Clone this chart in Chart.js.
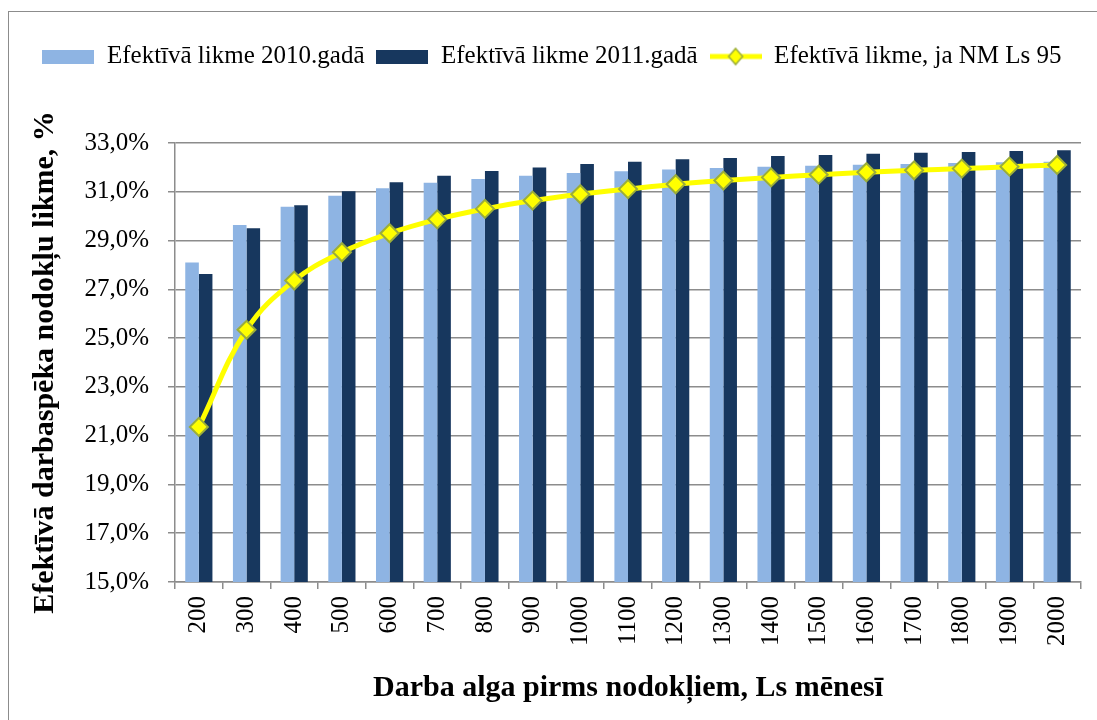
<!DOCTYPE html>
<html>
<head>
<meta charset="utf-8">
<script src="https://cdn.jsdelivr.net/npm/chart.js@4/dist/chart.umd.min.js"></script>
<style>
html,body{margin:0;padding:0;background:#fff;overflow:hidden}
#wrap{position:relative;width:1097px;height:720px}
#frame{position:absolute;left:8px;top:11px;width:1200px;height:800px;border:1px solid #8c8c8c;pointer-events:none}
</style>
</head>
<body>
<div id="wrap">
<div id="frame"></div>
<canvas id="taxChart" width="1097" height="720"></canvas>
</div>
<script>
const salaries=['200','300','400','500','600','700','800','900','1000','1100','1200','1300','1400','1500','1600','1700','1800','1900','2000'];
const rate2010=[28.1,29.64,30.39,30.84,31.14,31.37,31.52,31.66,31.77,31.84,31.91,31.98,32.03,32.07,32.11,32.14,32.18,32.21,32.23];
const rate2011=[27.63,29.5,30.45,31.02,31.39,31.66,31.85,32.0,32.14,32.23,32.33,32.39,32.47,32.51,32.56,32.6,32.63,32.67,32.7];
const rateNM95=[21.36,25.34,27.36,28.52,29.3,29.87,30.3,30.64,30.9,31.11,31.31,31.46,31.59,31.7,31.8,31.88,31.95,32.03,32.1];
const yTicks={min:15,max:33,step:2};

const serif='"Liberation Serif","Times New Roman",serif';
const lightBlue='#8eb4e3',darkBlue='#17375e',yellow='#ffff00',olive='#9bad3a';

// legend markers (box / line with diamond), drawn as small canvases
function boxIcon(color){
const c=document.createElement('canvas');c.width=52;c.height=14;
const g=c.getContext('2d');g.fillStyle=color;g.fillRect(0,0,52,14);return c;
}
function lineIcon(){
const c=document.createElement('canvas');c.width=52;c.height=20;
const g=c.getContext('2d');
g.strokeStyle=yellow;g.lineWidth=5;g.beginPath();g.moveTo(0,10);g.lineTo(52,10);g.stroke();
g.fillStyle=yellow;g.strokeStyle=olive;g.lineWidth=1.5;
g.beginPath();g.moveTo(26,2);g.lineTo(33,10);g.lineTo(26,18);g.lineTo(19,10);g.closePath();g.fill();g.stroke();
return c;
}
const icons=[boxIcon(lightBlue),boxIcon(darkBlue),lineIcon()];

// leave empty room under the legend, like the original
const legendGap={id:'legendGap',beforeLayout(chart){
const lg=chart.legend;
if(lg&&!lg._gap){const fit=lg.fit;lg.fit=function(){fit.call(this);this.height+=64;};lg._gap=true;}
}};

new Chart(document.getElementById('taxChart'),{
type:'bar',
data:{labels:salaries,datasets:[
{label:'Efektīvā likme 2010.gadā',data:rate2010,backgroundColor:lightBlue,order:1,barPercentage:1,categoryPercentage:0.57},
{label:'Efektīvā likme 2011.gadā',data:rate2011,backgroundColor:darkBlue,order:1,barPercentage:1,categoryPercentage:0.57},
{type:'line',label:'Efektīvā likme, ja NM Ls 95',data:rateNM95,borderColor:yellow,borderWidth:5,tension:0.4,
pointStyle:'rectRot',pointRadius:9,pointHoverRadius:9,pointBackgroundColor:yellow,pointBorderColor:olive,pointBorderWidth:2,order:0}
]},
plugins:[legendGap],
options:{
responsive:false,animation:false,
layout:{padding:{left:23,right:16,top:32,bottom:10}},
plugins:{
tooltip:{enabled:false},
legend:{position:'top',labels:{
usePointStyle:true,pointStyleWidth:52,padding:12,color:'#000',font:{family:serif,size:25},
sort:(a,b)=>a.datasetIndex-b.datasetIndex,
generateLabels:chart=>Chart.defaults.plugins.legend.labels.generateLabels(chart).map(l=>Object.assign(l,{pointStyle:icons[l.datasetIndex]}))
}}
},
scales:{
x:{
grid:{drawOnChartArea:false,tickLength:7,color:'#8c8c8c',lineWidth:1.5},
border:{color:'#8c8c8c',width:1.5},
ticks:{minRotation:90,maxRotation:90,padding:7,color:'#000',font:{family:serif,size:25}},
title:{display:true,text:'Darba alga pirms nodokļiem, Ls mēnesī',color:'#000',font:{family:serif,size:30,weight:'bold'}},
afterFit:s=>{s.height=128;}
},
y:{
min:yTicks.min,max:yTicks.max,
grid:{color:'#8c8c8c',lineWidth:1.5,tickLength:7},
border:{color:'#8c8c8c',width:1.5},
ticks:{stepSize:yTicks.step,padding:19,color:'#000',font:{family:serif,size:25},callback:v=>v.toFixed(1).replace('.',',')+'%'},
title:{display:true,text:'Efektīvā darbaspēka nodokļu likme, %',color:'#000',font:{family:serif,size:30,weight:'bold'}},
afterFit:s=>{s.width=152;}
}
}
}
});
</script>
</body>
</html>
